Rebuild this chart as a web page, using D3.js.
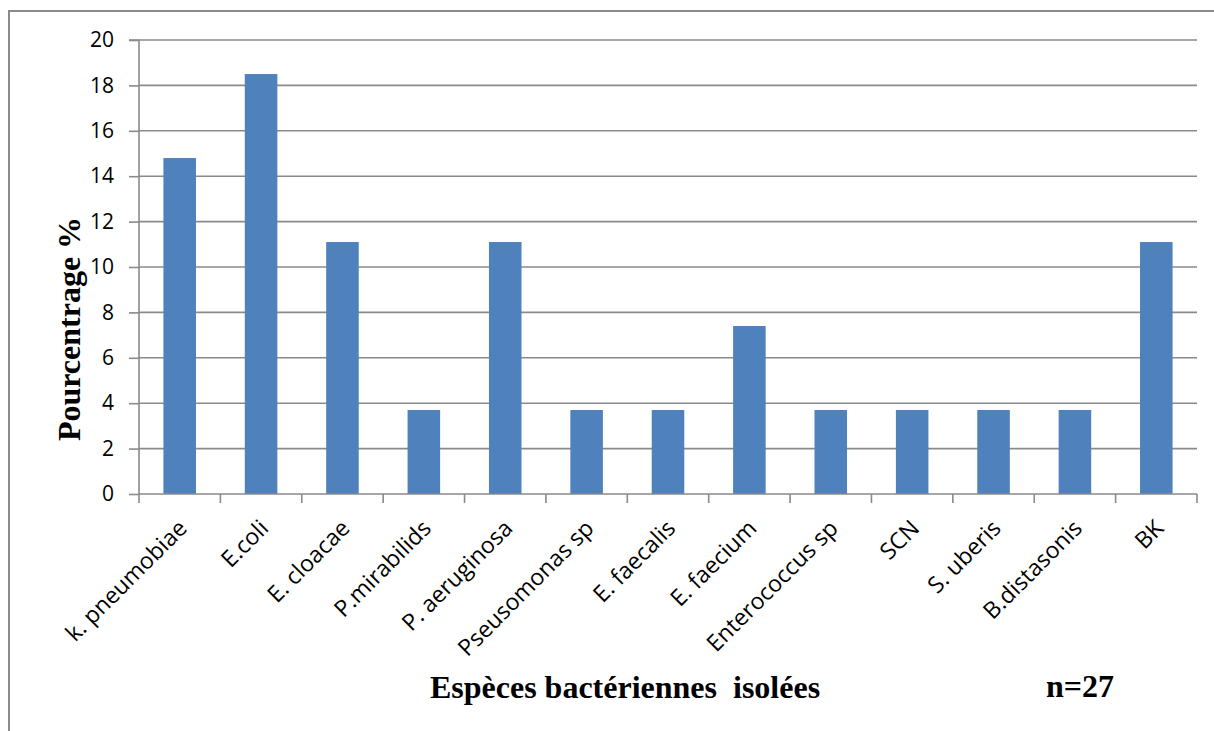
<!DOCTYPE html>
<html>
<head>
<meta charset="utf-8">
<script src="https://cdn.jsdelivr.net/npm/d3@7"></script>
<style>
  html, body { margin: 0; padding: 0; background: #fff; }
  svg { display: block; }
</style>
</head>
<body>
<svg id="chart" width="1214" height="731"></svg>
<script>
const categories = ["k. pneumobiae", "E.coli", "E. cloacae", "P.mirabilids", "P. aeruginosa",
  "Pseusomonas sp", "E. faecalis", "E. faecium", "Enterococcus sp", "SCN", "S. uberis",
  "B.distasonis", "BK"];
const values = [14.8, 18.5, 11.1, 3.7, 11.1, 3.7, 3.7, 7.4, 3.7, 3.7, 3.7, 3.7, 11.1];
const yTicks = [0, 2, 4, 6, 8, 10, 12, 14, 16, 18, 20];
const yTitle = "Pourcentrage %";
const xTitle = "Espèces bactériennes  isolées";
const nLabel = "n=27";

(function () {
const svg = d3.select("#chart");
const gridColor = "#8a8a8a";
const pLeft = 139, pRight = 1197, pTop = 40, pBottom = 494;

// outer border
svg.append("rect").attr("x", 9).attr("y", 11).attr("width", 1230).attr("height", 760)
  .attr("fill", "none").attr("stroke", gridColor).attr("stroke-width", 2);

const x = d3.scaleBand().domain(categories).range([pLeft, pRight]).paddingInner(0.6).paddingOuter(0.3);
const xb = d3.scaleBand().domain(categories).range([pLeft, pRight]);
const y = d3.scaleLinear().domain([0, 20]).range([pBottom, pTop]);

// gridlines
svg.append("g").selectAll("line").data(yTicks.filter(d => d > 0)).join("line")
  .attr("x1", pLeft).attr("x2", pRight)
  .attr("y1", d => y(d)).attr("y2", d => y(d))
  .attr("stroke", gridColor).attr("stroke-width", 1.6);

// bars
svg.append("g").selectAll("rect").data(values).join("rect")
  .attr("x", (d, i) => xb(categories[i]) + xb.bandwidth() / 2 - x.bandwidth() / 2)
  .attr("width", x.bandwidth())
  .attr("y", d => y(d))
  .attr("height", d => y(0) - y(d))
  .attr("fill", "#4F81BD");

// y axis
const yAxis = d3.axisLeft(y).tickValues(yTicks).tickSize(10).tickPadding(15).tickFormat(d3.format("d"));
const gy = svg.append("g").attr("transform", `translate(${pLeft},0)`).call(yAxis);
gy.select(".domain").attr("stroke", gridColor).attr("stroke-width", 1.6).attr("d", `M-10,${pTop}H0V${pBottom}`);
gy.selectAll(".tick line").attr("stroke", gridColor).attr("stroke-width", 1.6);
gy.selectAll(".tick text").attr("font-family", "'Open Sans', sans-serif").attr("font-size", 21).attr("fill", "#000");

// x axis
const xAxis = d3.axisBottom(xb).tickSize(0).tickFormat("");
const gx = svg.append("g").attr("transform", `translate(0,${pBottom})`).call(xAxis);
gx.select(".domain").attr("stroke", gridColor).attr("stroke-width", 1.6).attr("d", `M${pLeft},0H${pRight}`);
gx.selectAll(".tick").remove();
const bounds = categories.map(c => xb(c)).concat([pRight]);
svg.append("g").selectAll("line").data(bounds).join("line")
  .attr("x1", d => d).attr("x2", d => d)
  .attr("y1", pBottom).attr("y2", pBottom + 9)
  .attr("stroke", gridColor).attr("stroke-width", 1.6);

// x labels
svg.append("g").selectAll("text").data(categories).join("text")
  .attr("transform", d => `translate(${xb(d) + xb.bandwidth() / 2 + 3},${pBottom + 30}) rotate(-45)`)
  .attr("text-anchor", "end")
  .attr("dy", "0.35em")
  .attr("font-family", "'Open Sans', sans-serif")
  .attr("font-size", 23)
  .attr("fill", "#000")
  .text(d => d);

// titles
svg.append("text")
  .attr("transform", `translate(80,329) rotate(-90)`)
  .attr("text-anchor", "middle")
  .attr("font-family", "'Liberation Serif', 'Times New Roman', serif")
  .attr("font-weight", "bold").attr("font-size", 32)
  .text(yTitle);

svg.append("text")
  .attr("x", 625).attr("y", 698)
  .attr("text-anchor", "middle")
  .attr("font-family", "'Liberation Serif', 'Times New Roman', serif")
  .attr("font-weight", "bold").attr("font-size", 32)
  .style("white-space", "pre")
  .text(xTitle);

svg.append("text")
  .attr("x", 1046).attr("y", 697)
  .attr("font-family", "'Liberation Serif', 'Times New Roman', serif")
  .attr("font-weight", "bold").attr("font-size", 32)
  .text(nLabel);
})();
</script>
</body>
</html>
